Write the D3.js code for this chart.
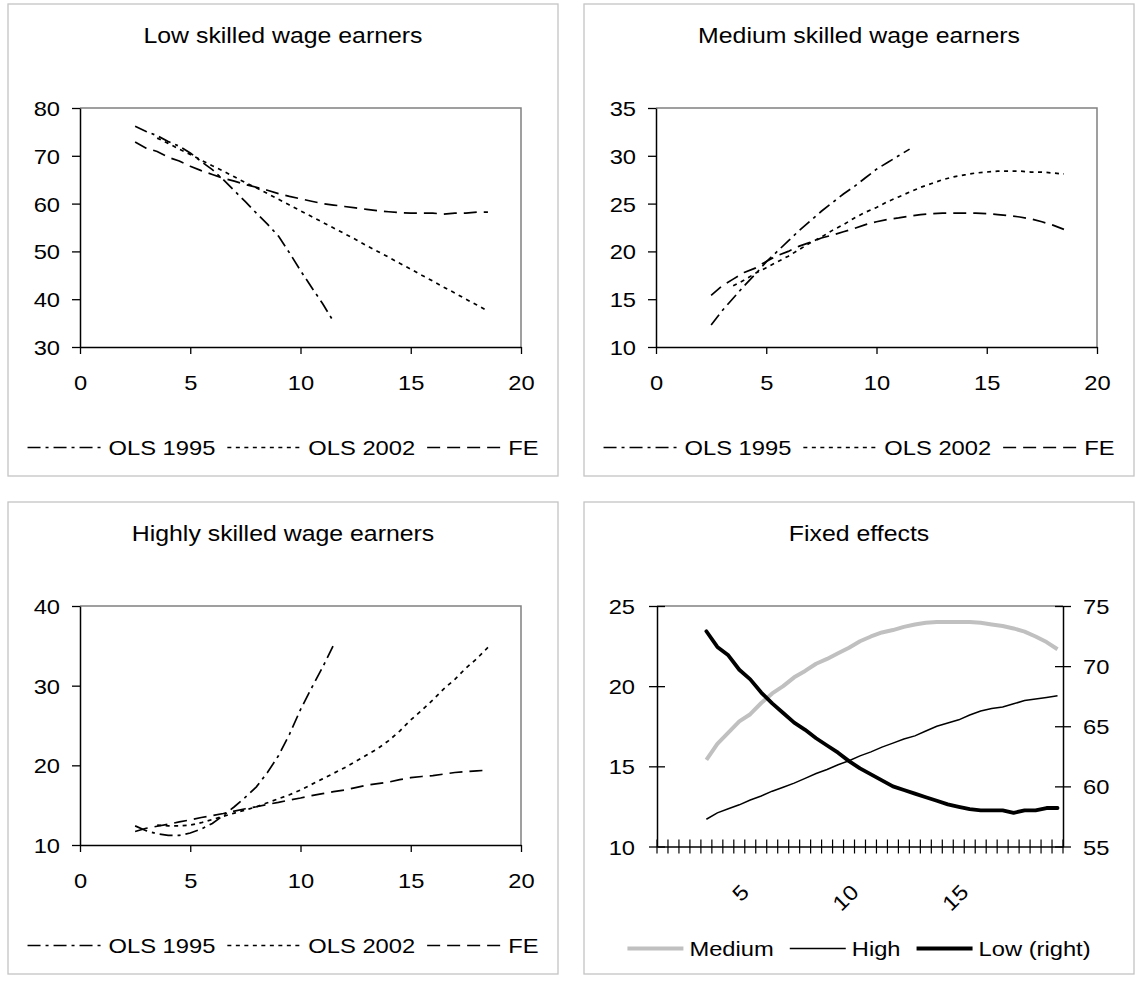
<!DOCTYPE html>
<html><head><meta charset="utf-8">
<script src="https://cdn.jsdelivr.net/npm/d3@7"></script>
<style>
body{margin:0;background:#fff}
svg{display:block}
text{font-family:"Liberation Sans",Arial,Helvetica,sans-serif;fill:#000}
</style>
</head><body>
<svg id="c" width="1140" height="984"></svg>
<script>
// ---------- DATA ----------
const xsFE = [2.5,3,3.5,4,4.5,5,5.5,6,6.5,7,7.5,8,8.5,9,9.5,10,10.5,11,11.5,12,12.5,13,13.5,14,14.5,15,15.5,16,16.5,17,17.5,18,18.5];
const xsOLS1995 = [2.5,3,3.5,4,4.5,5,5.5,6,6.5,7,7.5,8,8.5,9,9.5,10,10.5,11,11.5];
const xsOLS2002 = [3.5,4,4.5,5,5.5,6,6.5,7,7.5,8,8.5,9,9.5,10,10.5,11,11.5,12,12.5,13,13.5,14,14.5,15,15.5,16,16.5,17,17.5,18,18.5];

const feLow = [72.9,71.6,70.9,69.7,68.9,67.8,66.9,66.1,65.3,64.7,64.0,63.4,62.8,62.1,61.5,61.0,60.5,60.0,59.7,59.4,59.1,58.8,58.5,58.3,58.1,58.0,58.0,58.0,57.8,58.0,58.0,58.2,58.2];
const feMedium = [15.4,16.4,17.1,17.8,18.25,18.95,19.55,20.0,20.55,20.95,21.4,21.7,22.05,22.4,22.8,23.1,23.35,23.5,23.7,23.85,23.95,24.0,24.0,24.0,24.0,23.95,23.85,23.75,23.6,23.4,23.1,22.75,22.3];
const feHigh = [11.7,12.1,12.35,12.6,12.9,13.15,13.45,13.7,13.95,14.25,14.55,14.8,15.1,15.35,15.65,15.9,16.2,16.45,16.7,16.9,17.2,17.5,17.7,17.9,18.2,18.45,18.6,18.7,18.9,19.1,19.2,19.3,19.4];

const ols1995Low = [76.2,75.1,74.2,73.0,72.0,70.6,68.8,67.1,65.0,62.7,60.4,58.0,55.7,53.2,49.7,46.0,42.5,39.1,35.3];
const ols2002Low = [73.7,72.6,71.4,70.3,69.1,67.9,66.8,65.6,64.4,63.3,62.1,60.9,59.7,58.5,57.3,56.1,54.9,53.7,52.5,51.2,50.0,48.8,47.5,46.3,45.0,43.8,42.5,41.3,40.0,38.8,37.5];

const ols1995Medium = [12.3,13.8,15.1,16.4,17.6,18.9,20.0,21.1,22.2,23.2,24.2,25.1,26.0,26.8,27.7,28.6,29.3,30.0,30.7];
const ols2002Medium = [16.4,17.0,17.7,18.3,18.9,19.5,20.2,20.9,21.5,22.2,22.8,23.5,24.1,24.6,25.2,25.7,26.2,26.7,27.1,27.5,27.8,28.0,28.2,28.3,28.4,28.4,28.4,28.3,28.3,28.2,28.1];

const ols1995High = [12.4,11.8,11.4,11.2,11.2,11.5,12.0,12.7,13.7,14.8,16.0,17.3,19.1,21.2,23.9,27.0,29.7,32.3,35.1];
const ols2002High = [12.5,12.4,12.4,12.5,12.8,13.2,13.6,14.0,14.4,14.8,15.3,15.8,16.3,16.9,17.6,18.3,19.0,19.7,20.5,21.3,22.1,23.1,24.3,25.7,26.9,28.2,29.6,30.8,32.2,33.4,34.8];

const xTicks = [0,5,10,15,20];
const yTicksLow = [30,40,50,60,70,80];
const yTicksMedium = [10,15,20,25,30,35];
const yTicksHigh = [10,20,30,40];

// Fixed-effects panel: category axis
const fixedCats = [1,1.5,2,2.5,3,3.5,4,4.5,5,5.5,6,6.5,7,7.5,8,8.5,9,9.5,10,10.5,11,11.5,12,12.5,13,13.5,14,14.5,15,15.5,16,16.5,17,17.5,18,18.5,19];
const fixedSeriesCats = [3,3.5,4,4.5,5,5.5,6,6.5,7,7.5,8,8.5,9,9.5,10,10.5,11,11.5,12,12.5,13,13.5,14,14.5,15,15.5,16,16.5,17,17.5,18,18.5,19];
const fixedCatLabels = [5,10,15];
const yTicksFixedLeft = [10,15,20,25];
const yTicksFixedRight = [55,60,65,70,75];

const legendNames = ["OLS 1995","OLS 2002","FE"];
const fixedLegendNames = ["Medium","High","Low (right)"];
const titles = ["Low skilled wage earners","Medium skilled wage earners","Highly skilled wage earners","Fixed effects"];

// ---------- STYLE ----------
const SX = 1.13, FS = 21, TFS = 22;
const dashes = {"OLS 1995":"13,5,3,5","OLS 2002":"4,4.5","FE":"13,7"};
const svg = d3.select("#c");

function txt(g, x, y, s, size, anchor, extra){
  return g.append("text")
    .attr("transform", `translate(${x},${y}) ${extra||""} scale(${SX},1)`)
    .attr("text-anchor", anchor||"start")
    .style("font-size", size+"px")
    .text(s);
}
function fixAxis(ax){
  ax.attr("font-family", null).attr("font-size", null);
  ax.select(".domain").attr("stroke","#000").attr("stroke-width",1.5);
  ax.selectAll(".tick line").attr("stroke","#000").attr("stroke-width",1.3);
  ax.selectAll(".tick text").each(function(){
    const t = d3.select(this);
    const x = +t.attr("x") || 0;
    t.attr("x", x/SX).attr("transform", `scale(${SX},1)`).style("font-size", FS+"px").attr("fill","#000");
  });
}
function frame(px, py){
  svg.append("rect").attr("x",px).attr("y",py).attr("width",550).attr("height",472)
    .attr("fill","#fff").attr("stroke","#c4c4c4").attr("stroke-width",1.3);
}

function legend(g, cx, baseY, items){
  // items: {name, draw(sel,x1,x2,y)}
  const lineLen = items.lineLen, gapT = items.gapT, gapN = items.gapN;
  const tmp = items.list.map(it => {
    const t = txt(g, 0, 0, it.name, FS, "start");
    const w = t.node().getComputedTextLength()*SX;
    t.remove();
    return w;
  });
  const total = d3.sum(tmp) + items.list.length*(lineLen+gapT) + (items.list.length-1)*gapN;
  let x = cx - total/2;
  const ly = baseY - 7.5;
  items.list.forEach((it,i) => {
    it.draw(g.append("line").attr("x1",x).attr("x2",x+lineLen).attr("y1",ly).attr("y2",ly));
    x += lineLen + gapT;
    txt(g, x, baseY, it.name, FS, "start");
    x += tmp[i] + gapN;
  });
}

// ---------- XY PANELS ----------
function xyPanel(px, py, title, yDom, yTicks, s95, s02, sFE){
  frame(px, py);
  const g = svg.append("g");
  const L = px+72, R = px+513, T = py+104, B = py+343;
  const x = d3.scaleLinear().domain([0,20]).range([L,R]);
  const y = d3.scaleLinear().domain(yDom).range([B,T]);
  txt(g, px+275, py+38.5, title, TFS, "middle");
  g.append("path").attr("d",`M${L},${T}H${R}V${B}`).attr("fill","none").attr("stroke","#808080").attr("stroke-width",1.5);
  const xa = g.append("g").attr("transform",`translate(0,${B})`)
    .call(d3.axisBottom(x).tickValues(xTicks).tickSize(7).tickPadding(21).tickSizeOuter(0).tickFormat(d3.format("d")));
  fixAxis(xa);
  const ya = g.append("g").attr("transform",`translate(${L},0)`)
    .call(d3.axisLeft(y).tickValues(yTicks).tickSize(8).tickPadding(12).tickSizeOuter(0).tickFormat(d3.format("d")));
  fixAxis(ya);
  ya.selectAll(".tick text").attr("dy","0.36em");
  const mk = xsArr => d3.line().x((d,i)=>x(xsArr[i])).y(d=>y(d));
  const sty = (p,name) => p.attr("fill","none").attr("stroke","#000").attr("stroke-width",1.7).attr("stroke-dasharray",dashes[name]);
  sty(g.append("path").attr("d", mk(xsFE)(sFE)), "FE");
  sty(g.append("path").attr("d", mk(xsOLS2002)(s02)), "OLS 2002");
  sty(g.append("path").attr("d", mk(xsOLS1995)(s95)), "OLS 1995");
  legend(g, px+275, py+451, {lineLen:74, gapT:7, gapN:12, list: legendNames.map(n => ({name:n, draw: l => l.attr("stroke","#000").attr("stroke-width",1.7).attr("stroke-dasharray",dashes[n])}))});
}

xyPanel(8, 4, titles[0], [30,80], yTicksLow, ols1995Low, ols2002Low, feLow);
xyPanel(584, 4, titles[1], [10,35], yTicksMedium, ols1995Medium, ols2002Medium, feMedium);
xyPanel(8, 502, titles[2], [10,40], yTicksHigh, ols1995High, ols2002High, feHigh);

// ---------- FIXED EFFECTS PANEL ----------
(function(){
  const px = 584, py = 502;
  frame(px, py);
  const g = svg.append("g");
  const L = 657, R = 1063, T = py+104, B = py+344.5;
  const x = d3.scaleBand().domain(fixedCats).range([L,R]).padding(0);
  const bw = x.bandwidth();
  const yL = d3.scaleLinear().domain([10,25]).range([B,T]);
  const yR = d3.scaleLinear().domain([55,75]).range([B,T]);
  txt(g, px+275, py+38.5, titles[3], TFS, "middle");
  g.append("line").attr("x1",L).attr("x2",R).attr("y1",T).attr("y2",T).attr("stroke","#808080").attr("stroke-width",1.5);
  // category axis
  const xa = g.append("g").attr("transform",`translate(0,${B})`)
    .call(d3.axisBottom(x).tickValues([]).tickSizeOuter(0));
  xa.select(".domain").attr("stroke","#000").attr("stroke-width",1.5);
  const bounds = fixedCats.map(c => x(c)).concat([x.range()[1]]);
  g.selectAll("line.ct").data(bounds).join("line").attr("class","ct")
    .attr("x1",d=>d).attr("x2",d=>d).attr("y1",B-7).attr("y2",B+7).attr("stroke","#000").attr("stroke-width",1.2);
  fixedCatLabels.forEach(c => {
    txt(g, x(c)+bw/2, B+47, String(c), FS, "end", "rotate(-45)");
  });
  const la = g.append("g").attr("transform",`translate(${L},0)`)
    .call(d3.axisLeft(yL).tickValues(yTicksFixedLeft).tickSize(8).tickPadding(14).tickSizeOuter(0));
  fixAxis(la);
  la.selectAll(".tick line").attr("x1",8);
  la.selectAll(".tick text").attr("dy","0.36em");
  const ra = g.append("g").attr("transform",`translate(${R},0)`)
    .call(d3.axisRight(yR).tickValues(yTicksFixedRight).tickSize(8).tickPadding(12).tickSizeOuter(0));
  fixAxis(ra);
  ra.selectAll(".tick line").attr("x1",-8);
  ra.selectAll(".tick text").attr("dy","0.36em");
  const cx = i => x(fixedSeriesCats[i]) + bw/2;
  g.append("path").attr("d", d3.line().x((d,i)=>cx(i)).y(d=>yL(d))(feMedium))
    .attr("fill","none").attr("stroke","#c0c0c0").attr("stroke-width",4).attr("stroke-linejoin","round");
  g.append("path").attr("d", d3.line().x((d,i)=>cx(i)).y(d=>yL(d))(feHigh))
    .attr("fill","none").attr("stroke","#000").attr("stroke-width",1.5);
  g.append("path").attr("d", d3.line().x((d,i)=>cx(i)).y(d=>yR(d))(feLow))
    .attr("fill","none").attr("stroke","#000").attr("stroke-width",3.8).attr("stroke-linejoin","round").attr("stroke-linecap","round");
  const lstyles = [
    l => l.attr("stroke","#c0c0c0").attr("stroke-width",4),
    l => l.attr("stroke","#000").attr("stroke-width",1.5),
    l => l.attr("stroke","#000").attr("stroke-width",3.8)
  ];
  legend(g, px+275, py+454, {lineLen:56, gapT:6, gapN:16, list: fixedLegendNames.map((n,i)=>({name:n, draw:lstyles[i]}))});
})();
</script>
</body></html>
